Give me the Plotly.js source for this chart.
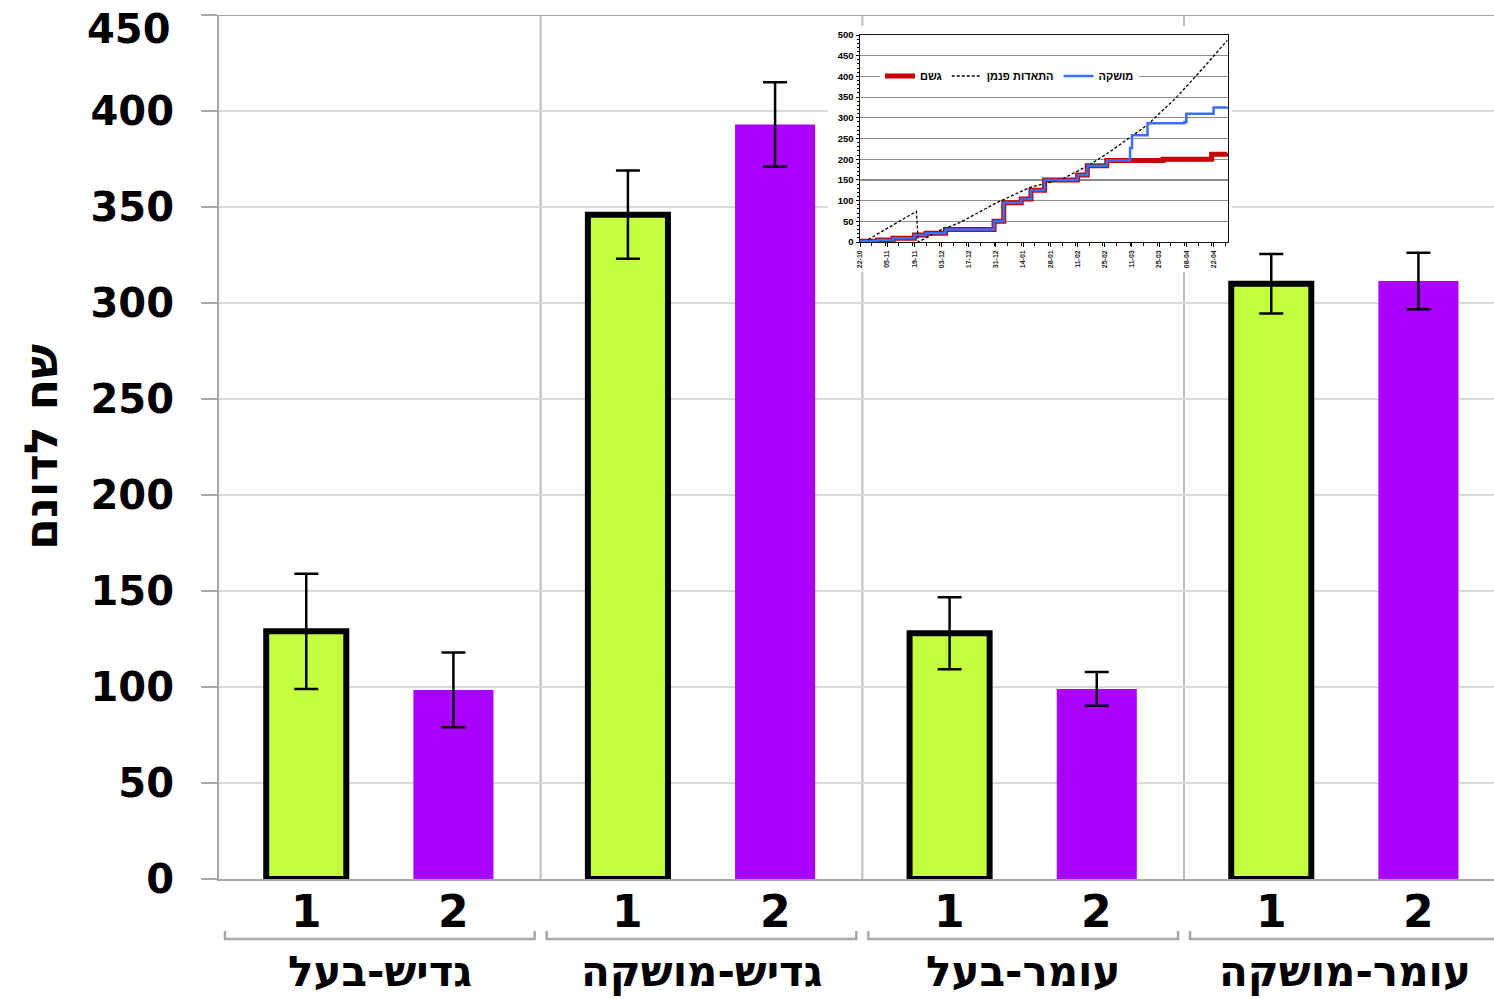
<!DOCTYPE html>
<html><head><meta charset="utf-8">
<script src="https://cdn.plot.ly/plotly-3.0.1.min.js"></script>
<style>html,body{margin:0;padding:0;background:#fff}#chart{width:1494px;height:999px}</style>
</head><body><div id="chart"></div>
<script>
// ---------- main chart data ----------
const groups = ['גדיש-בעל', 'גדיש-מושקה', 'עומר-בעל', 'עומר-מושקה'];
const subLabels = ['1', '2'];
const series1Values = [129, 346, 128, 310];
const series1Errors = [30, 23, 18.8, 15.5];
const series2Values = [98.5, 393, 99, 311.5];
const series2Errors = [19.5, 22, 8.8, 14.7];
const yTickValues = [0, 50, 100, 150, 200, 250, 300, 350, 400, 450];
const yTickLabels = ['0', '50', '100', '150', '200', '250', '300', '350', '400', '450'];
const yTitle = 'שח לדונם';

// ---------- inset chart data ----------
const insetNames = ['גשם', 'התאדות פנמן', 'מושקה'];
const rainDates = ['2012-10-22','2012-10-31','2012-11-08','2012-11-19','2012-11-25','2012-12-05','2012-12-30','2013-01-04','2013-01-13','2013-01-18','2013-01-25','2013-02-11','2013-02-16','2013-02-26','2013-03-27','2013-04-21','2013-04-29'];
const rainValues = [2, 5, 9, 17, 21, 30, 50, 95, 104, 125, 150, 162, 184, 197, 200, 212, 215];
const evapDates = ['2012-10-24','2012-11-20','2012-11-21','2012-12-03','2012-12-12','2012-12-31','2013-01-17','2013-02-03','2013-02-17','2013-02-27','2013-03-08','2013-03-19','2013-04-03','2013-04-17','2013-04-29'];
const evapValues = [0, 74, 0, 30, 46, 94, 131, 152, 186, 216, 246, 283, 350, 422, 487];
const irrDates = ['2012-10-22','2012-10-31','2012-11-08','2012-11-19','2012-11-25','2012-12-05','2012-12-30','2013-01-04','2013-01-13','2013-01-18','2013-01-25','2013-02-11','2013-02-16','2013-02-26','2013-03-10','2013-03-11','2013-03-19','2013-04-07','2013-04-08','2013-04-22','2013-04-29'];
const irrValues = [2, 5, 9, 17, 21, 30, 50, 95, 104, 125, 150, 162, 184, 197, 227, 258, 287, 290, 310, 325, 326];
const insetXRange = ['2012-10-22', '2013-04-29 10:00'];
const insetYRange = [0, 500];

// ---------- styling ----------
const NUM = {family: 'DejaVu Sans', weight: 'bold', color: '#000'};
const SMALL = {family: 'Liberation Sans, Arial', weight: 'bold', color: '#000'};
const GREEN = '#C3FF3D', PURPLE = '#AA00FF';
const AXIS_GRAY = '#a8a8a8', GRID_GRAY = '#d9d9d9';
const bargap = 0.085, bargroupgap = 0.456;
const barOffset = (1 - bargap) / 4;
const xIdx = groups.map((_, i) => i);
const X_MAX = -0.5 + 1275 / 321.67;
const DAY = 86400000;

const errStyle = {type: 'data', visible: true, color: '#000', thickness: 2.5, width: 12};

const traces = [
  {type: 'bar', x: xIdx, y: series1Values, name: subLabels[0], showlegend: false, hoverinfo: 'skip',
   marker: {color: GREEN, line: {color: '#000', width: 6}},
   error_y: Object.assign({array: series1Errors}, errStyle)},
  {type: 'bar', x: xIdx, y: series2Values, name: subLabels[1], showlegend: false, hoverinfo: 'skip',
   marker: {color: PURPLE, line: {width: 0}},
   error_y: Object.assign({array: series2Errors}, errStyle)},
  {type: 'scatter', x: [], y: [], xaxis: 'x2', yaxis: 'y2', showlegend: false, hoverinfo: 'skip'},
  {type: 'scatter', mode: 'lines', x: rainDates, y: rainValues, xaxis: 'x3', yaxis: 'y3', name: insetNames[0],
   line: {color: '#C40000', width: 5, shape: 'hv'}, hoverinfo: 'skip'},
  {type: 'scatter', mode: 'lines', x: evapDates, y: evapValues, xaxis: 'x3', yaxis: 'y3', name: insetNames[1],
   line: {color: '#000', width: 1.3, dash: '3px,2px'}, hoverinfo: 'skip'},
  {type: 'scatter', mode: 'lines', x: irrDates, y: irrValues, xaxis: 'x3', yaxis: 'y3', name: insetNames[2],
   line: {color: '#3A6EFF', width: 2.5, shape: 'hv'}, hoverinfo: 'skip'}
];

// ---------- annotations ----------
const annotations = [];
groups.forEach((g, gi) => {
  subLabels.forEach((s, si) => {
    annotations.push({xref: 'x', yref: 'paper', x: gi + (si === 0 ? -barOffset : barOffset), y: -0.038,
      text: s, showarrow: false, xanchor: 'center', yanchor: 'middle', font: Object.assign({size: 44}, NUM)});
  });
  annotations.push({xref: 'x', yref: 'paper', x: gi, y: -0.1065, text: g, showarrow: false,
    xanchor: 'center', yanchor: 'middle', font: Object.assign({size: 42}, NUM)});
});
annotations.push({xref: 'paper', yref: 'paper', x: -0.1396, y: 0.5, text: yTitle, textangle: -90,
  showarrow: false, xanchor: 'center', yanchor: 'middle', font: Object.assign({size: 46}, NUM)});
annotations.push({xref: 'paper', yref: 'paper', x: -0.0361, y: 1, yshift: -14, text: yTickLabels[yTickLabels.length - 1],
  showarrow: false, xanchor: 'right', yanchor: 'middle', font: Object.assign({size: 40}, NUM)});

// ---------- shapes ----------
const shapes = [];
// white background of inset picture
shapes.push({type: 'rect', xref: 'x2', yref: 'y2', x0: 0, x1: 1, y0: 0, y1: 1, layer: 'below',
  fillcolor: '#fff', line: {width: 0}});
// vertical group dividers
for (let gi = 1; gi < groups.length; gi++) {
  shapes.push({type: 'line', xref: 'x', yref: 'y', x0: gi - 0.5, x1: gi - 0.5, y0: 0, y1: 450,
    layer: 'below', line: {color: '#bdbdbd', width: 2}});
}
// top border
shapes.push({type: 'line', xref: 'paper', yref: 'y', x0: 0, x1: 1, y0: 450, y1: 450, layer: 'above',
  line: {color: AXIS_GRAY, width: 2}});
// brackets under the sub labels
const d = 6 / 321.67, yB = -60 / 864, yT = -52 / 864;
groups.forEach((g, gi) => {
  const a = gi - 0.5 + d, b = gi + 0.5 - d;
  shapes.push({type: 'path', xref: 'x', yref: 'paper', layer: 'below',
    path: `M${a},${yT} L${a},${yB} L${b},${yB} L${b},${yT}`, line: {color: AXIS_GRAY, width: 2.5}});
});

const layout = {
  width: 1494, height: 999,
  margin: {l: 219, r: 0, t: 15, b: 120, pad: 0},
  paper_bgcolor: '#fff', plot_bgcolor: '#fff',
  barmode: 'group', bargap: bargap, bargroupgap: bargroupgap,
  showlegend: true,
  legend: {orientation: 'h', x: 0.5184, xanchor: 'left', y: 0.9294, yanchor: 'middle',
    bgcolor: '#fff', borderwidth: 0, font: Object.assign({size: 11}, SMALL), itemwidth: 30,
    traceorder: 'normal'},
  xaxis: {type: 'linear', range: [-0.5, X_MAX], showgrid: false, zeroline: false, showticklabels: false,
    ticks: '', showline: true, linecolor: AXIS_GRAY, linewidth: 2, fixedrange: true},
  yaxis: {range: [0, 450], tickvals: yTickValues,
    ticktext: yTickLabels.map((t, i) => i === yTickLabels.length - 1 ? '' : t),
    tickfont: Object.assign({size: 40}, NUM), ticks: 'outside', ticklen: 16, tickwidth: 2, tickcolor: AXIS_GRAY,
    ticklabelstandoff: 19,
    showgrid: true, gridcolor: GRID_GRAY, gridwidth: 2, zeroline: false,
    showline: true, linecolor: AXIS_GRAY, linewidth: 2, fixedrange: true},
  xaxis2: {domain: [0.4776, 0.7945], anchor: 'y2', range: [0, 1], showgrid: false, zeroline: false,
    showticklabels: false, ticks: '', showline: false},
  yaxis2: {domain: [0.7025, 0.9873], anchor: 'x2', range: [0, 1], showgrid: false, zeroline: false,
    showticklabels: false, ticks: '', showline: false},
  xaxis3: {domain: [0.50275, 0.79137], anchor: 'y3', type: 'date', range: insetXRange,
    tick0: '2012-10-22', dtick: 14 * DAY, tickformat: '%d-%m', tickangle: -90,
    tickfont: Object.assign({size: 7}, SMALL, {color: '#222'}),
    ticks: 'outside', ticklen: 4, tickwidth: 1, tickcolor: '#000',
    minor: {dtick: 7 * DAY, ticks: 'outside', ticklen: 3, tickcolor: '#000', showgrid: false},
    showgrid: false, zeroline: false, showline: true, linecolor: '#111', linewidth: 1.5, mirror: true},
  yaxis3: {domain: [0.73727, 0.97685], anchor: 'x3', range: insetYRange, dtick: 50,
    tickfont: Object.assign({size: 9.5}, SMALL), ticks: 'outside', ticklen: 3, tickwidth: 1, tickcolor: '#000',
    minor: {dtick: 10, ticks: 'outside', ticklen: 2, tickcolor: '#000', showgrid: false},
    showgrid: true, gridcolor: '#8c8c8c', gridwidth: 1.2, zeroline: false,
    showline: true, linecolor: '#111', linewidth: 1.5, mirror: true},
  annotations: annotations,
  shapes: shapes
};

Plotly.newPlot('chart', traces, layout, {displayModeBar: false, staticPlot: true});
</script>
</body></html>
